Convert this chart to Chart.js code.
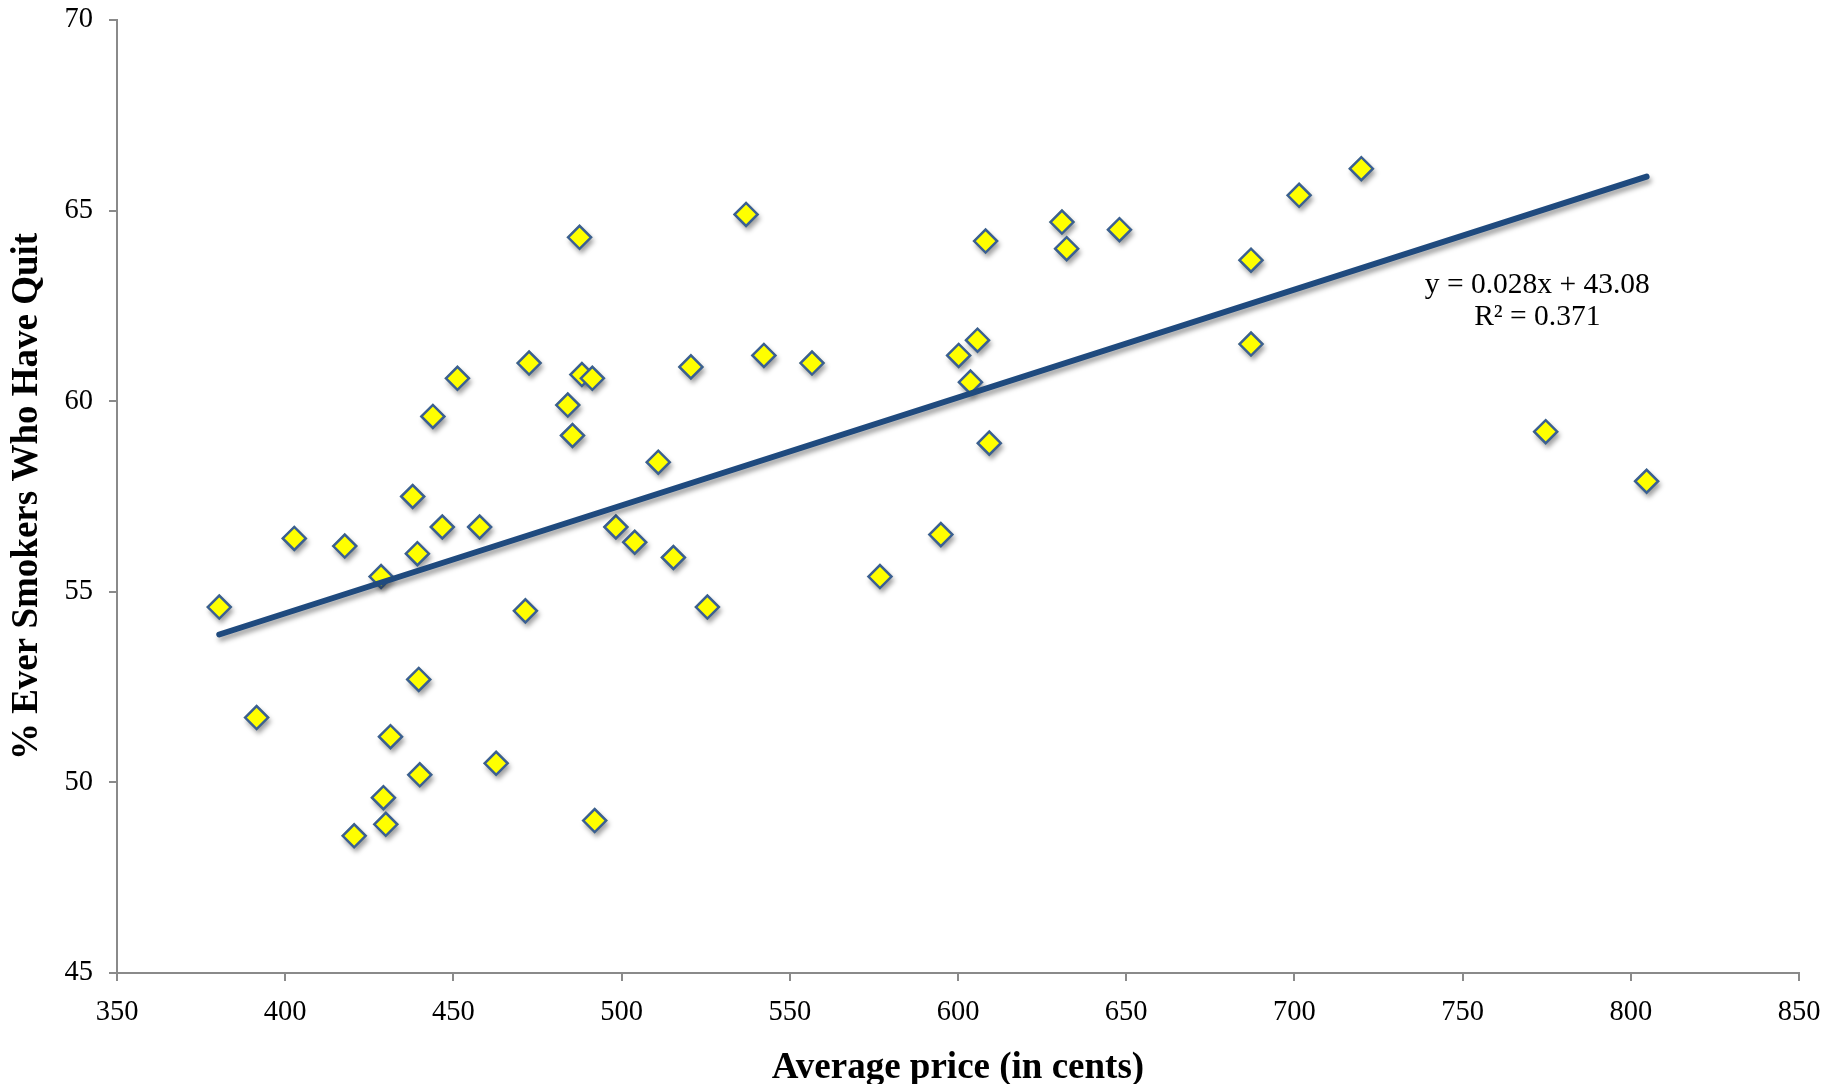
<!DOCTYPE html>
<html>
<head>
<meta charset="utf-8">
<title>Cigarette price vs. quit rate</title>
<script src="https://cdn.jsdelivr.net/npm/chart.js@4.4.1/dist/chart.umd.min.js"></script>
<style>
  html, body { margin: 0; padding: 0; background: #fff; }
  #chart { display: block; }
</style>
</head>
<body>
<canvas id="chart" width="1840" height="1084"></canvas>
<script>
// average price per pack (cents), one entry per state
const priceCents = [380.4, 391.5, 402.7, 417.7, 420.5, 428.5, 429.2, 429.9, 431.3, 437.9,
  439.3, 439.7, 440.0, 443.9, 446.7, 451.2, 457.8, 462.7, 471.4, 472.5,
  484.0, 485.4, 487.5, 488.2, 491.3, 492.0, 498.3, 503.9, 510.9, 515.4,
  520.6, 525.5, 537.0, 542.3, 556.6, 576.8, 594.9, 600.2, 603.7, 605.8,
  608.2, 609.3, 630.9, 632.3, 648.0, 687.1, 687.1, 701.4, 719.9, 774.7, 804.7];
// % of ever smokers who have quit
const quitPct = [54.6, 51.7, 56.4, 56.2, 48.6, 55.4, 49.6, 48.9, 51.2, 57.5,
  56.0, 52.7, 50.2, 59.6, 56.7, 60.6, 56.7, 50.5, 54.5, 61.0,
  59.9, 59.1, 64.3, 60.7, 60.6, 49.0, 56.7, 56.3, 58.4, 55.9,
  60.9, 54.6, 64.9, 61.2, 61.0, 55.4, 56.5, 61.2, 60.5, 61.6,
  64.2, 58.9, 64.7, 64.0, 64.5, 63.7, 61.5, 65.4, 66.1, 59.2, 57.9];

// linear trendline ends
const trendX = [380.4, 804.7];
const trendY = [53.88, 65.89];
const trendText = ['y = 0.028x + 43.08', 'R\u00B2 = 0.371'];

const xTicks = [350, 400, 450, 500, 550, 600, 650, 700, 750, 800, 850];
const yTicks = [45, 50, 55, 60, 65, 70];

const SERIF = '"Liberation Serif", "DejaVu Serif", serif';
const axisGrey = '#8a8a8a';
const markerR = 11.5;
const markerBorder = 2.5;

// drop shadows like the office chart
const shadowPlugin = {
  id: 'dropShadow',
  beforeDatasetDraw(chart, args) {
    const ctx = chart.ctx;
    ctx.save();
    ctx.shadowColor = 'rgba(0,0,0,0.38)';
    ctx.shadowBlur = 5;
    ctx.shadowOffsetX = 2;
    ctx.shadowOffsetY = 4;
    if (args.meta.type === 'scatter') {
      // shadow pass only, the points themselves get drawn plain on top
      const r = markerR + markerBorder / 2;
      ctx.fillStyle = '#ffff00';
      args.meta.data.forEach(pt => {
        ctx.beginPath();
        ctx.moveTo(pt.x - r, pt.y);
        ctx.lineTo(pt.x, pt.y - r);
        ctx.lineTo(pt.x + r, pt.y);
        ctx.lineTo(pt.x, pt.y + r);
        ctx.closePath();
        ctx.fill();
      });
      ctx.restore();
      ctx.save();
    }
  },
  afterDatasetDraw(chart) {
    chart.ctx.restore();
  }
};

const trendLabel = {
  id: 'trendLabel',
  afterDraw(chart) {
    const ctx = chart.ctx;
    const x = chart.scales.x.getPixelForValue(772.2);
    const y = chart.scales.y.getPixelForValue(63.04);
    ctx.save();
    ctx.fillStyle = '#000';
    ctx.font = '29.5px ' + SERIF;
    ctx.textAlign = 'center';
    ctx.textBaseline = 'middle';
    ctx.fillText(trendText[0], x, y);
    ctx.fillText(trendText[1], x, y + 32);
    ctx.restore();
  }
};

const points = priceCents.map((p, i) => ({x: p, y: quitPct[i]}));
const trend = trendX.map((p, i) => ({x: p, y: trendY[i]}));

new Chart(document.getElementById('chart'), {
  type: 'scatter',
  data: {
    datasets: [{
      type: 'line',
      data: trend,
      order: 0,
      borderColor: '#1f4a7e',
      borderWidth: 6,
      borderCapStyle: 'round',
      pointRadius: 0,
      fill: false
    }, {
      data: points,
      order: 1,
      pointStyle: 'rectRot',
      pointRadius: markerR,
      pointBackgroundColor: '#ffff00',
      pointBorderColor: '#3a5f94',
      pointBorderWidth: markerBorder
    }]
  },
  options: {
    responsive: false,
    animation: false,
    layout: {padding: {top: 20, right: 41, bottom: 0, left: 0}},
    plugins: {
      legend: {display: false},
      tooltip: {enabled: false}
    },
    scales: {
      x: {
        type: 'linear',
        min: 350,
        max: 850,
        afterBuildTicks: s => { s.ticks = xTicks.map(v => ({value: v})); },
        afterFit: s => { s.height = 111; s.paddingLeft = 0; s.paddingRight = 0; },
        border: {color: axisGrey, width: 2},
        grid: {drawOnChartArea: false, tickLength: 8, color: axisGrey, lineWidth: 2},
        ticks: {color: '#000', padding: 14, font: {family: SERIF, size: 28.5}},
        title: {
          display: true,
          text: 'Average price (in cents)',
          color: '#000',
          font: {family: SERIF, size: 37, weight: 'bold', lineHeight: 0.8},
          padding: {top: 0, bottom: 1}
        }
      },
      y: {
        type: 'linear',
        min: 45,
        max: 70,
        afterBuildTicks: s => { s.ticks = yTicks.map(v => ({value: v})); },
        afterFit: s => { s.width = 117; s.paddingTop = 0; s.paddingBottom = 0; },
        border: {color: axisGrey, width: 2},
        grid: {drawOnChartArea: false, tickLength: 8, color: axisGrey, lineWidth: 2},
        ticks: {color: '#000', padding: 16, font: {family: SERIF, size: 28.5}},
        title: {
          display: true,
          text: '% Ever Smokers Who Have Quit',
          color: '#000',
          font: {family: SERIF, size: 37, weight: 'bold', lineHeight: 1},
          padding: {top: 9, bottom: 0}
        }
      }
    }
  },
  plugins: [shadowPlugin, trendLabel]
});
</script>
</body>
</html>
